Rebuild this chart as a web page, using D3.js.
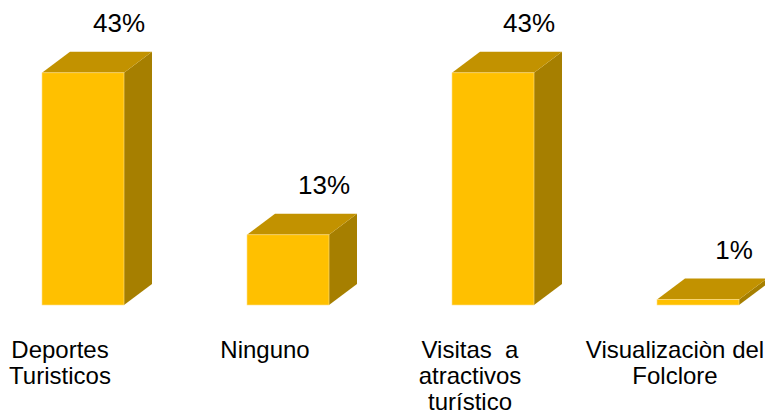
<!DOCTYPE html>
<html>
<head>
<meta charset="utf-8">
<script src="https://cdn.jsdelivr.net/npm/d3@7"></script>
<style>
  html, body { margin: 0; padding: 0; background: #ffffff; }
  svg { display: block; }
  text { font-family: "Liberation Sans", Arial, sans-serif; fill: #000; }
</style>
</head>
<body>
<svg id="chart" width="765" height="416"></svg>
<script>
// Category names (line breaks as shown under each bar)
const categories = [
  ["Deportes", "Turisticos"],
  ["Ninguno"],
  ["Visitas  a", "atractivos", "turístico"],
  ["Visualizaciòn del", "Folclore"]
];
// Share of answers, in percent
const values = [43, 13, 43, 1];
const valueLabels = ["43%", "13%", "43%", "1%"];

const W = 765, H = 416;
const svg = d3.select("#chart");

const keys = categories.map(c => c.join(" "));
const x = d3.scaleBand()
  .domain(keys)
  .range([1, 780])
  .paddingInner(0.6)
  .paddingOuter(0.2);

const y = d3.scaleLinear().domain([0, 50]).range([305, 35]);

// 3D extrusion of each column
const depthX = 28, depthY = 21;
const colFront = "#FFC000", colTop = "#C29200", colSide = "#A67F00";

const bars = svg.append("g")
  .selectAll("g")
  .data(values)
  .join("g");

bars.each(function (v, i) {
  const g = d3.select(this);
  const x0 = x(keys[i]);
  const x1 = x0 + x.bandwidth();
  const yTop = y(v);
  const yBase = y(0);
  // right side face
  g.append("path")
    .attr("d", `M${x1},${yTop} L${x1 + depthX},${yTop - depthY} L${x1 + depthX},${yBase - depthY} L${x1},${yBase} Z`)
    .attr("fill", colSide);
  // top face
  g.append("path")
    .attr("d", `M${x0},${yTop} L${x0 + depthX},${yTop - depthY} L${x1 + depthX},${yTop - depthY} L${x1},${yTop} Z`)
    .attr("fill", colTop);
  // front face
  g.append("rect")
    .attr("x", x0)
    .attr("y", yTop)
    .attr("width", x.bandwidth())
    .attr("height", yBase - yTop)
    .attr("fill", colFront)
    .attr("stroke", "#FFE08A")
    .attr("stroke-width", 0.6);
});

// value labels above each column
svg.append("g")
  .selectAll("text")
  .data(values)
  .join("text")
  .attr("x", (v, i) => x(keys[i]) + x.bandwidth() / 2 + 36)
  .attr("y", v => y(v) - depthY - 20)
  .attr("text-anchor", "middle")
  .style("font-size", "26px")
  .text((v, i) => valueLabels[i]);

// category labels under the columns
const cat = svg.append("g")
  .selectAll("text")
  .data(categories)
  .join("text")
  .attr("x", (c, i) => x(keys[i]) + x.bandwidth() / 2 - 23)
  .attr("y", 358)
  .attr("text-anchor", "middle")
  .style("font-size", "24px");

cat.each(function (lines) {
  const t = d3.select(this);
  const cx = t.attr("x");
  lines.forEach((line, j) => {
    t.append("tspan")
      .attr("x", cx)
      .attr("dy", j === 0 ? 0 : 26)
      .style("white-space", "pre")
      .text(line);
  });
});
</script>
</body>
</html>
